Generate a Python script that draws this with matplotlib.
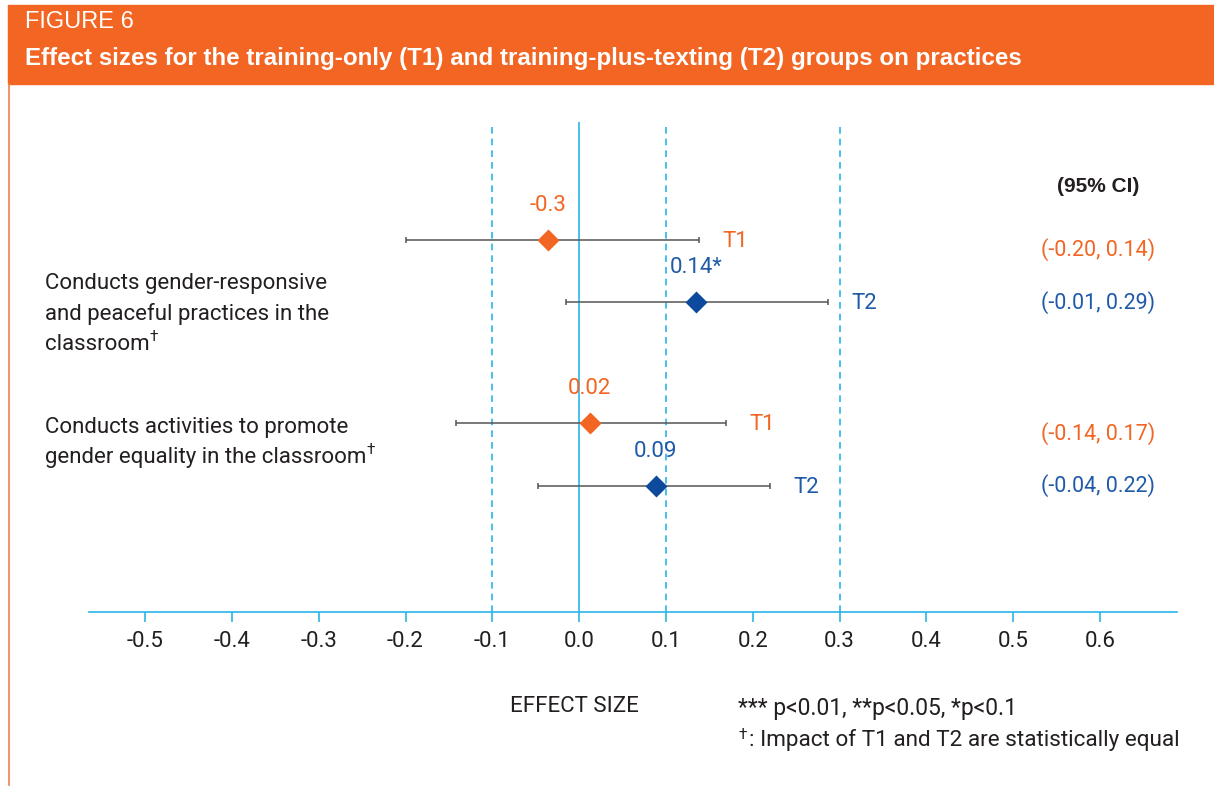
import numpy as np
import matplotlib.pyplot as plt
from matplotlib.patches import Rectangle
from matplotlib.lines import Line2D

# data
rows = ['T1', 'T2', 'T1', 'T2']
effects = [-0.036, 0.135, 0.012, 0.088]
ci_low = [-0.20, -0.015, -0.142, -0.047]
ci_high = [0.138, 0.287, 0.169, 0.22]
value_labels = ['-0.3', '0.14*', '0.02', '0.09']
ci_labels = ['(-0.20, 0.14)', '(-0.01, 0.29)', '(-0.14, 0.17)', '(-0.04, 0.22)']
y_pos = [-0.17, 0.17, 0.83, 1.17]  # two groups, T1 above T2
ref_lines = [-0.1, 0.1, 0.3]
xticks = [-0.5, -0.4, -0.3, -0.2, -0.1, 0.0, 0.1, 0.2, 0.3, 0.4, 0.5, 0.6]
group_labels = [['Conducts gender-responsive', 'and peaceful practices in the', 'classroom'],
                ['Conducts activities to promote', 'gender equality in the classroom']]

ORANGE = '#F26522'
BLUE_MK = '#0D4A9E'
BLUE_TX = '#1F5AA8'
SKY = '#29B5E8'
DARK = '#231F20'
colors_mk = {'T1': ORANGE, 'T2': BLUE_MK}
colors_tx = {'T1': ORANGE, 'T2': BLUE_TX}

plt.rcParams['font.family'] = ['Roboto', 'DejaVu Sans']

W, H = 1214, 790
fig = plt.figure(figsize=(W / 100, H / 100), dpi=100)

def fx(px):
    return px / W

def fy(py):
    return 1 - py / H

# header band
fig.patches.append(Rectangle((fx(8), fy(84)), 1 - fx(8), fy(5) - fy(84),
                             transform=fig.transFigure, color='#F26522', zorder=0))
fig.text(fx(25), fy(22), 'FIGURE 6', color='white', fontsize=17,
         family='Liberation Sans', va='center', ha='left')
fig.text(fx(25), fy(58), 'Effect sizes for the training-only (T1) and training-plus-texting (T2) groups on practices',
         color='white', fontsize=17.4, family='Liberation Sans', weight='bold', va='center', ha='left')
fig.lines.append(Line2D([fx(8.5), fx(8.5)], [fy(84), fy(785)], transform=fig.transFigure,
                        color='#F0804A', lw=1.2))

ax = fig.add_axes([fx(88.7), fy(612), fx(1177.3) - fx(88.7), fy(122) - fy(612)])
ax.set_xlim(-0.565, 0.689)
ax.set_ylim(1.858, -0.812)

for s in ['top', 'left', 'right']:
    ax.spines[s].set_visible(False)
ax.spines['bottom'].set_color(SKY)
ax.spines['bottom'].set_linewidth(1.2)
ax.set_yticks([])
ax.set_xticks(xticks)
ax.set_xticklabels(['%.1f' % t for t in xticks])
ax.tick_params(axis='x', direction='out', length=7, width=1.2, color=SKY,
               pad=7, labelsize=16, labelcolor=DARK)

ax.axvline(0, color=SKY, lw=1.2, zorder=1)
for r in ref_lines:
    ax.axvline(r, color=SKY, lw=1.2, ls=(0, (4, 3)), zorder=1)

for i in range(len(rows)):
    t = rows[i]
    ax.errorbar(effects[i], y_pos[i], xerr=[[effects[i] - ci_low[i]], [ci_high[i] - effects[i]]],
                fmt='none', ecolor='#555555', elinewidth=1.1, capsize=2.5, capthick=1.1, zorder=2)
    ax.plot(effects[i], y_pos[i], marker='D', ms=11, color=colors_mk[t], mec='none', zorder=3)
    ax.annotate(value_labels[i], (effects[i], y_pos[i]), xytext=(0, 25), textcoords='offset points',
                ha='center', va='center', color=colors_tx[t], fontsize=16)
    ax.annotate(t, (ci_high[i], y_pos[i]), xytext=(17, -1), textcoords='offset points',
                ha='left', va='center', color=colors_tx[t], fontsize=16)
    dy = -7 if t == 'T1' else 0
    ax.annotate(ci_labels[i], (0.598, y_pos[i]), xytext=(0, dy), textcoords='offset points',
                ha='center', va='center', color=colors_tx[t], fontsize=15.5)

fig.text(fx(1098), fy(186), '(95% CI)', ha='center', va='center', fontsize=15,
         weight='bold', color=DARK, family='Liberation Sans')

# group labels, one text per line, 31 px apart, dagger glued to the last line
first_line_y = [283, 427]
for g, lines in enumerate(group_labels):
    for k, line in enumerate(lines):
        txt = fig.text(fx(45), fy(first_line_y[g] + 31 * k), line, ha='left', va='center',
                       fontsize=16, color=DARK)
    ax.annotate('†', xy=(1.0, 1.0), xycoords=txt, xytext=(0, -2),
                textcoords='offset points', ha='left', va='center',
                fontsize=11, color=DARK, annotation_clip=False)

fig.text(fx(574), fy(706), 'EFFECT SIZE', ha='center', va='center', fontsize=16, color=DARK)
fig.text(fx(738), fy(708), '*** p<0.01, **p<0.05, *p<0.1', ha='left', va='center',
         fontsize=16.5, color=DARK)
fig.text(fx(738), fy(735), '†', ha='left', va='center', fontsize=11, color=DARK)
fig.text(fx(749), fy(740), ': Impact of T1 and T2 are statistically equal', ha='left',
         va='center', fontsize=16.2, color=DARK)

fig.savefig('out.png', dpi=100, facecolor='white')
